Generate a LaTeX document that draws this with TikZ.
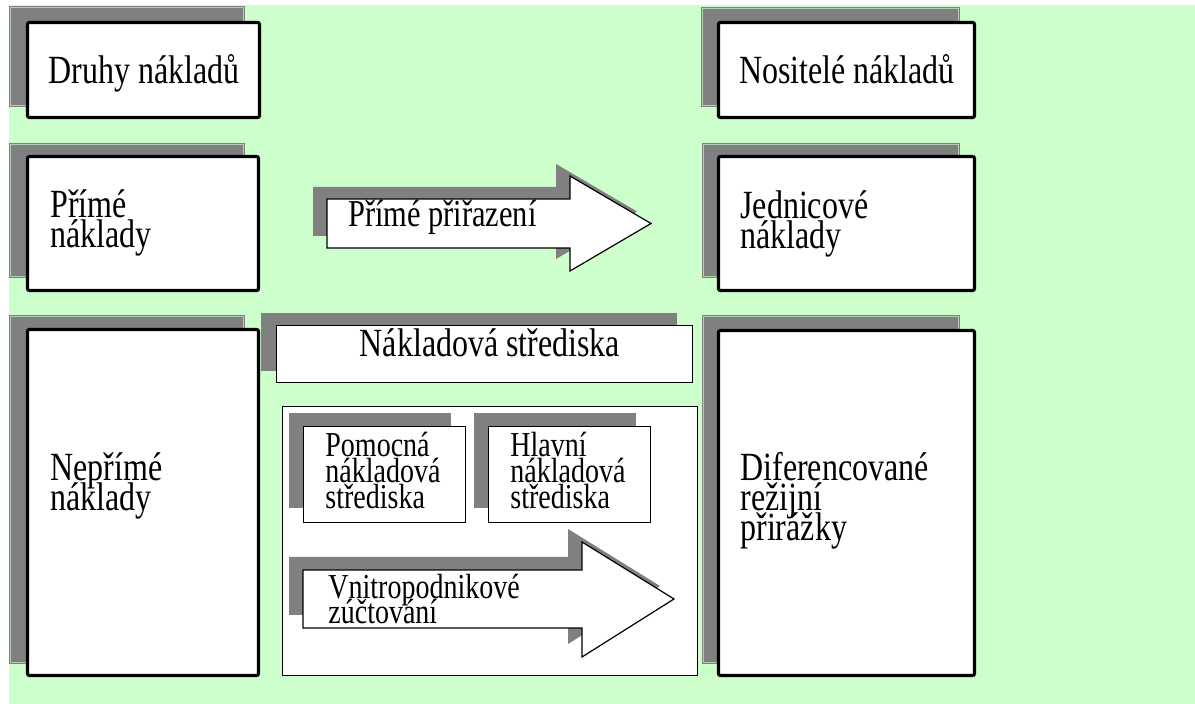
\documentclass[tikz,border=0pt]{standalone}
\usepackage{fontspec}
\setmainfont{Liberation Serif}[FakeStretch=0.8]
\usepackage{tikz}
\usetikzlibrary{calc}
\definecolor{sheetGreen}{RGB}{204,255,204}
\definecolor{dropGray}{RGB}{128,128,128}
\definecolor{dropEdge}{RGB}{180,204,180}
\tikzset{
  drop/.style={fill=dropGray},
  dropline/.style={draw=dropEdge, line width=0.4pt},
  card/.style={draw=black, fill=white, line width=1.6pt, rounded corners=1pt},
  slip/.style={draw=black, fill=white, line width=0.7pt},
  bigtxt/.style={inner sep=0pt, align=left, font=\fontsize{20}{15}\selectfont\setlength{\lineskiplimit}{-100pt}},
  smalltxt/.style={inner sep=0pt, align=left, font=\fontsize{17.5}{13}\selectfont\setlength{\lineskiplimit}{-100pt}}
}

\begin{document}
\begin{tikzpicture}[x=0.5pt, y=-0.5pt]
  \useasboundingbox (0,0) rectangle (1195,704);
  \fill [sheetGreen] (9,5) rectangle (1195,704);

  % left column
  \fill [drop] (9,6) rectangle (245,107);
  \draw [dropline] (10.5,7.5) rectangle (243.5,105.5);
  \draw [card] (27.5,22.5) rectangle (259.5,117.5);
  \node [bigtxt, anchor=base] (druhy) at (144,84) {Druhy nákladů};

  \fill [drop] (9,143) rectangle (245,278);
  \draw [dropline] (10.5,144.5) rectangle (243.5,276.5);
  \draw [card] (27.5,156.5) rectangle (258.5,290.5);
  \node [bigtxt, anchor=north west] (prime) at (50,189) {Přímé\\náklady};

  \fill [drop] (9,315) rectangle (245,664);
  \draw [dropline] (10.5,316.5) rectangle (243.5,662.5);
  \draw [card] (27.5,329.5) rectangle (258.5,675.5);
  \node [bigtxt, anchor=north west] (neprime) at (50,452) {Nepřímé\\náklady};

  % right column
  \fill [drop] (701,7) rectangle (960,107);
  \draw [dropline] (702.5,8.5) rectangle (958.5,105.5);
  \draw [card] (718.5,22.5) rectangle (974.5,117.5);
  \node [bigtxt, anchor=base] (nositele) at (847,84) {Nositelé nákladů};

  \fill [drop] (702,143) rectangle (960,278);
  \draw [dropline] (703.5,144.5) rectangle (958.5,276.5);
  \draw [card] (718.5,156.5) rectangle (974.5,290.5);
  \node [bigtxt, anchor=north west] (jednicove) at (740,190) {Jednicové\\náklady};

  \fill [drop] (702,315) rectangle (960,664);
  \draw [dropline] (703.5,316.5) rectangle (958.5,662.5);
  \draw [card] (718.5,330.5) rectangle (974.5,675.5);
  \node [bigtxt, anchor=north west] (diferenc) at (740,452) {Diferencované\\režijní\\přirážky};

  % direct arrow
  \fill [drop, shift={(-14,-12)}] (327,199) -- (570,199) -- (570,176) -- (651,223.5) -- (570,271) -- (570,248) -- (327,248) -- cycle;
  \draw [slip, line width=0.6pt] (327,199) -- (570,199) -- (570,176) -- (651,223.5) -- (570,271) -- (570,248) -- (327,248) -- cycle;
  \node [inner sep=0pt, anchor=base west, font=\fontsize{19}{19}\selectfont] (prirazeni) at (348,227) {Přímé přiřazení};

  % cost centres
  \fill [drop] (261,313) rectangle (677,371);
  \draw [slip] (276.5,325.5) rectangle (692.5,382.5);
  \node [bigtxt, anchor=base] (strediska) at (490,357) {Nákladová střediska};

  \draw [slip] (282.5,406.5) rectangle (697.5,675.5);
  \fill [drop] (289,413) rectangle (451,508);
  \draw [slip] (303.5,426.5) rectangle (465.5,522.5);
  \node [smalltxt, anchor=north west] (pomocna) at (325,432) {Pomocná\\nákladová\\střediska};
  \fill [drop] (474,413) rectangle (636,508);
  \draw [slip] (488.5,426.5) rectangle (650.5,522.5);
  \node [smalltxt, anchor=north west] (hlavni) at (510,432) {Hlavní\\nákladová\\střediska};

  \fill [drop, shift={(-14,-13)}] (303,570) -- (582,570) -- (582,542) -- (674,599) -- (582,657) -- (582,628) -- (303,628) -- cycle;
  \draw [slip, line width=0.6pt] (303,570) -- (582,570) -- (582,542) -- (674,599) -- (582,657) -- (582,628) -- (303,628) -- cycle;
  \node [smalltxt, anchor=north west, font=\fontsize{17.5}{12.5}\selectfont\setlength{\lineskiplimit}{-100pt}] (vnitro) at (328,574) {Vnitropodnikové\\zúčtování};
\end{tikzpicture}
\end{document}
